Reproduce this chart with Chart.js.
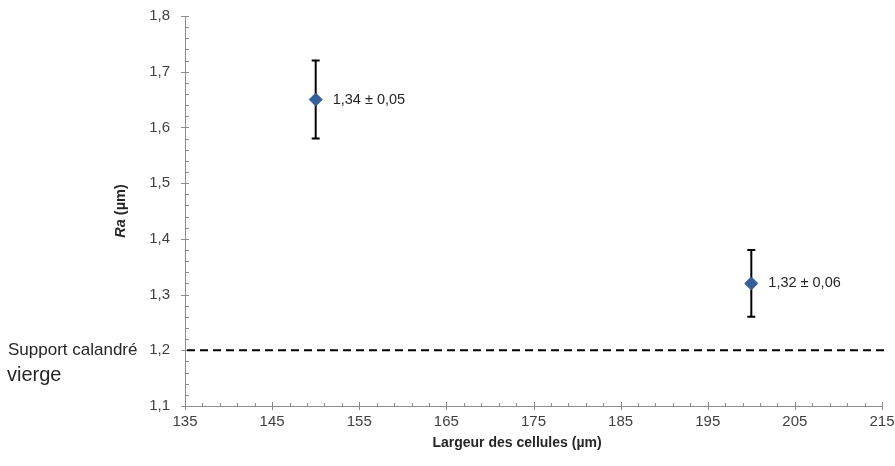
<!DOCTYPE html>
<html><head><meta charset="utf-8">
<script src="https://cdn.jsdelivr.net/npm/chart.js@4.4.1/dist/chart.umd.min.js"></script>
<style>html,body{margin:0;padding:0;background:#fff}#wrap{width:895px;height:466px;position:relative}</style>
</head><body><div id="wrap"><canvas id="c" width="895" height="466"></canvas></div>
<script>
const cellWidths = [150, 200];
const raValues = [1.65, 1.32];
const raErrors = [0.07, 0.06];
const pointLabels = ['1,34 ± 0,05', '1,32 ± 0,06'];
const referenceValue = 1.2;
const referenceLabel = ['Support calandré', 'vierge'];
const xTickValues = [135, 145, 155, 165, 175, 185, 195, 205, 215];
const yTickValues = [1.1, 1.2, 1.3, 1.4, 1.5, 1.6, 1.7, 1.8];
const xMinorStep = 2;
const yMinorStep = 0.02;
const xTitle = 'Largeur des cellules (µm)';
const yTitleItalic = 'Ra';
const yTitleRest = ' (µm)';

const FONT = '"Liberation Sans", Arial, sans-serif';
const axisColor = '#8c8c8c';

const decorPlugin = {
  id: 'decor',
  beforeDatasetsDraw(chart) {
    const ctx = chart.ctx, xs = chart.scales.x, ys = chart.scales.y, ca = chart.chartArea;
    ctx.save();
    ctx.strokeStyle = axisColor; ctx.lineWidth = 1;
    ctx.beginPath();
    ctx.moveTo(ca.left + 0.5, ca.top); ctx.lineTo(ca.left + 0.5, ca.bottom + 0.5);
    ctx.lineTo(ca.right, ca.bottom + 0.5);
    ctx.stroke();
    ctx.beginPath();
    for (let v = xs.min; v <= xs.max + 1e-9; v += xMinorStep) {
      const px = Math.round(xs.getPixelForValue(v)) + 0.5;
      ctx.moveTo(px, ca.bottom); ctx.lineTo(px, ca.bottom - 3);
    }
    xTickValues.forEach(v => {
      const px = Math.round(xs.getPixelForValue(v)) + 0.5;
      ctx.moveTo(px, ca.bottom - 4); ctx.lineTo(px, ca.bottom + 4);
    });
    for (let v = ys.min; v <= ys.max + 1e-9; v += yMinorStep) {
      const py = Math.round(ys.getPixelForValue(v)) + 0.5;
      ctx.moveTo(ca.left, py); ctx.lineTo(ca.left + 4, py);
    }
    yTickValues.forEach(v => {
      const py = Math.round(ys.getPixelForValue(v)) + 0.5;
      ctx.moveTo(ca.left - 4, py); ctx.lineTo(ca.left + 4, py);
    });
    ctx.stroke();
    const ry = ys.getPixelForValue(referenceValue);
    ctx.strokeStyle = '#000'; ctx.lineWidth = 2; ctx.setLineDash([8, 5]);
    ctx.beginPath(); ctx.moveTo(ca.left + 2, ry); ctx.lineTo(ca.right + 4, ry); ctx.stroke();
    ctx.setLineDash([]);
    ctx.strokeStyle = '#000'; ctx.lineWidth = 2;
    cellWidths.forEach((x, i) => {
      const px = xs.getPixelForValue(x);
      const top = ys.getPixelForValue(raValues[i] + raErrors[i]);
      const bot = ys.getPixelForValue(raValues[i] - raErrors[i]);
      ctx.beginPath();
      ctx.moveTo(px, top); ctx.lineTo(px, bot);
      ctx.moveTo(px - 4, top); ctx.lineTo(px + 4, top);
      ctx.moveTo(px - 4, bot); ctx.lineTo(px + 4, bot);
      ctx.stroke();
    });
    ctx.restore();
  },
  afterDatasetsDraw(chart) {
    const ctx = chart.ctx, xs = chart.scales.x, ys = chart.scales.y, ca = chart.chartArea;
    ctx.save();
    ctx.fillStyle = '#262626';
    ctx.font = '14.5px ' + FONT;
    ctx.textBaseline = 'middle'; ctx.textAlign = 'left';
    const meta = chart.getDatasetMeta(0);
    meta.data.forEach((pt, i) => {
      ctx.fillText(pointLabels[i], pt.x + 17, pt.y);
    });
    const ry = ys.getPixelForValue(referenceValue);
    ctx.font = '17px ' + FONT;
    ctx.fillText(referenceLabel[0], 8, ry);
    ctx.font = '20px ' + FONT;
    ctx.fillText(referenceLabel[1], 7, ry + 25);
    ctx.font = 'bold 14px ' + FONT;
    ctx.textAlign = 'center';
    ctx.fillText(xTitle, 517, 443);
    ctx.translate(121, (ca.top + ca.bottom) / 2);
    ctx.rotate(-Math.PI / 2);
    const fs = 14.5;
    ctx.font = 'italic bold ' + fs + 'px ' + FONT;
    const w1 = ctx.measureText(yTitleItalic).width;
    ctx.font = 'bold ' + fs + 'px ' + FONT;
    const w2 = ctx.measureText(yTitleRest).width;
    const start = -(w1 + w2) / 2;
    ctx.textAlign = 'left';
    ctx.font = 'italic bold ' + fs + 'px ' + FONT;
    ctx.fillText(yTitleItalic, start, 0);
    ctx.font = 'bold ' + fs + 'px ' + FONT;
    ctx.fillText(yTitleRest, start + w1, 0);
    ctx.restore();
  }
};

new Chart(document.getElementById('c'), {
  type: 'scatter',
  data: {
    datasets: [{
      data: cellWidths.map((x, i) => ({ x: x, y: raValues[i] })),
      pointStyle: 'rectRot',
      pointRadius: 6.5,
      pointHoverRadius: 6.5,
      backgroundColor: '#36609a',
      borderColor: '#36609a',
      borderWidth: 1
    }]
  },
  options: {
    responsive: false,
    animation: false,
    events: [],
    layout: { padding: { left: 0, right: 13, top: 16, bottom: 0 } },
    plugins: { legend: { display: false }, tooltip: { enabled: false } },
    scales: {
      x: {
        type: 'linear', min: 135, max: 215,
        afterBuildTicks: s => { s.ticks = xTickValues.map(v => ({ value: v })); },
        afterFit: s => { s.height = 60; s.paddingLeft = 0; s.paddingRight = 0; },
        grid: { display: false, drawTicks: false },
        border: { display: false },
        ticks: { padding: 7, color: '#404040', font: { family: FONT, size: 15 },
          maxRotation: 0, autoSkip: false, callback: v => String(v) }
      },
      y: {
        type: 'linear', min: 1.1, max: 1.8,
        afterBuildTicks: s => { s.ticks = yTickValues.map(v => ({ value: v })); },
        afterFit: s => { s.width = 185; s.paddingTop = 0; s.paddingBottom = 0; },
        grid: { display: false, drawTicks: false },
        border: { display: false },
        ticks: { padding: 15, color: '#404040', font: { family: FONT, size: 15 },
          autoSkip: false, callback: v => v.toFixed(1).replace('.', ',') }
      }
    }
  },
  plugins: [decorPlugin]
});
</script></body></html>
